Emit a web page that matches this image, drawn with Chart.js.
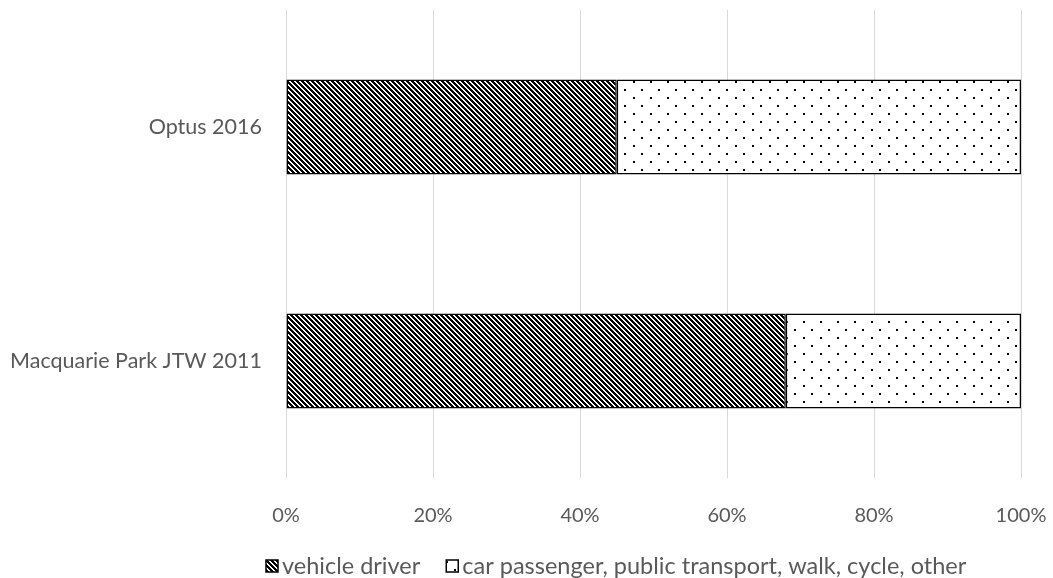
<!DOCTYPE html>
<html lang="en">
<head>
  <meta charset="UTF-8">
  <title>Mode share comparison</title>
  <style>
    body {
      margin: 0;
      background: #ffffff;
    }
    .container {
      width: 1053px;
      height: 578px;
    }
  </style>
</head>
<body>
  <div class="container">
    <canvas id="modeChart" width="1053" height="578"></canvas>
  </div>

  <script src="https://cdn.jsdelivr.net/npm/chart.js"></script>
  <script>
    const categories = ['Optus 2016', 'Macquarie Park JTW 2011'];
    const driverShare = [45, 68];
    const otherShare = [55, 32];
    const seriesNames = ['vehicle driver', 'car passenger, public transport, walk, cycle, other'];
    const xTicks = [0, 20, 40, 60, 80, 100];

    const FONT = 'Lato';
    const TEXT = '#595959';

    const ctx = document.getElementById('modeChart').getContext('2d');

    // diagonal "\" hatching for the driver share
    function stripePattern() {
      const n = 5;
      const c = document.createElement('canvas');
      c.width = n;
      c.height = n;
      const g = c.getContext('2d');
      g.fillStyle = '#ffffff';
      g.fillRect(0, 0, n, n);
      g.fillStyle = '#000000';
      for (let i = 0; i < n; i++) {
        for (let k = 0; k < 3; k++) {
          g.fillRect((i + k) % n, i, 1, 1);
        }
      }
      return ctx.createPattern(c, 'repeat');
    }

    // sparse dot grid for the remaining modes
    function dotPattern() {
      const c = document.createElement('canvas');
      c.width = 17;
      c.height = 16;
      const g = c.getContext('2d');
      g.fillStyle = '#ffffff';
      g.fillRect(0, 0, 17, 16);
      g.fillStyle = '#000000';
      g.fillRect(4, 1, 2, 2);
      g.fillRect(12, 9, 2, 2);
      return ctx.createPattern(c, 'repeat');
    }

    const stripes = stripePattern();
    const dots = dotPattern();

    // legend drawn by hand so box/text gaps stay tight
    const bottomLegend = {
      id: 'bottomLegend',
      afterDraw(chart) {
        const g = chart.ctx;
        const y = 566;
        const box = 12;
        const gap = 4;
        const spacing = 26;
        g.save();
        g.font = '23.5px ' + FONT;
        g.textBaseline = 'middle';
        let x = chart.chartArea.left - 20;
        chart.data.datasets.forEach(ds => {
          g.fillStyle = ds.backgroundColor;
          g.fillRect(x, y - box / 2, box, box);
          g.strokeStyle = '#000000';
          g.lineWidth = 1.5;
          g.strokeRect(x, y - box / 2, box, box);
          g.fillStyle = TEXT;
          g.fillText(ds.label, x + box + gap, y);
          x += box + gap + g.measureText(ds.label).width + spacing;
        });
        g.restore();
      }
    };

    new Chart(ctx, {
      type: 'bar',
      data: {
        labels: categories,
        datasets: [{
          label: seriesNames[0],
          data: driverShare,
          backgroundColor: stripes,
          borderColor: '#000000',
          borderWidth: 1.5,
          borderSkipped: false
        }, {
          label: seriesNames[1],
          data: otherShare,
          backgroundColor: dots,
          borderColor: '#000000',
          borderWidth: 1.5,
          borderSkipped: false
        }]
      },
      options: {
        indexAxis: 'y',
        responsive: false,
        animation: false,
        datasets: {
          bar: {
            categoryPercentage: 0.8,
            barPercentage: 0.508
          }
        },
        layout: {
          padding: { top: 10, right: 32, bottom: 40, left: 0 }
        },
        scales: {
          x: {
            stacked: true,
            min: 0,
            max: 100,
            afterBuildTicks: axis => {
              axis.ticks = xTicks.map(v => ({ value: v }));
            },
            afterFit: axis => {
              axis.height = 60;
              axis.paddingLeft = 0;
              axis.paddingRight = 0;
            },
            border: { display: false },
            grid: {
              color: '#d9d9d9',
              lineWidth: 1,
              drawTicks: false
            },
            ticks: {
              padding: 26,
              color: TEXT,
              font: { family: FONT, size: 20 },
              callback: v => v + '%'
            }
          },
          y: {
            stacked: true,
            afterFit: axis => {
              axis.width = 286;
              axis.paddingTop = 0;
              axis.paddingBottom = 0;
            },
            border: { display: false },
            grid: { display: false, drawTicks: false },
            ticks: {
              padding: 24,
              color: TEXT,
              font: { family: FONT, size: 21.5 }
            }
          }
        },
        plugins: {
          legend: { display: false },
          tooltip: { enabled: false }
        }
      },
      plugins: [bottomLegend]
    });
  </script>
</body>
</html>
